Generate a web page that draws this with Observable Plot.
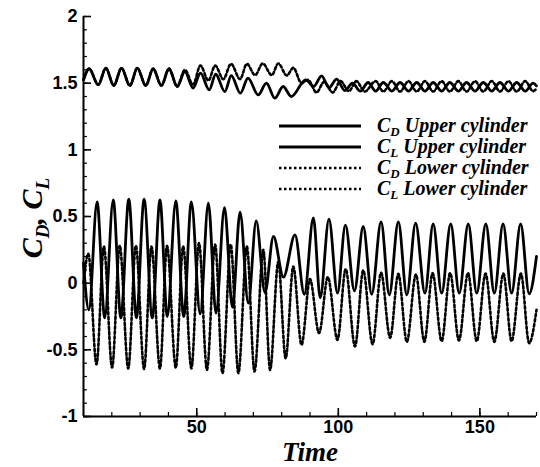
<!DOCTYPE html>
<html><head><meta charset="utf-8">
<script src="https://cdn.jsdelivr.net/npm/d3@7"></script>
<script src="https://cdn.jsdelivr.net/npm/@observablehq/plot@0.6"></script>
<style>body{margin:0;background:#fff}</style>
</head><body><div id="chart"></div>
<script>
// ---- Data (extrema of each oscillating signal) ----
const cdUpperT = [10,12.0,15.2,17.9,20.7,23.4,26.4,29.0,32.0,34.6,37.5,40.2,43.1,45.8,48.7,51.3,54.4,56.7,59.9,62.2,65.4,68.1,71.7,74.6,77.6,80.5,83.4,88.5,91.3,94.1,96.7,99.4,102.3,105.0,107.8,110.5,113.2,115.9,118.9,121.8,124.8,127.7,130.6,133.5,136.5,139.4,142.4,145.3,148.3,151.2,154.2,157.1,160.1,163.0,166.0,168.8,170];
const cdUpperV = [1.525,1.608,1.488,1.613,1.482,1.613,1.482,1.613,1.482,1.608,1.482,1.608,1.475,1.587,1.463,1.575,1.45,1.567,1.437,1.557,1.425,1.538,1.412,1.50,1.388,1.475,1.40,1.525,1.475,1.555,1.465,1.53,1.445,1.50,1.44,1.505,1.44,1.505,1.44,1.505,1.44,1.505,1.44,1.505,1.44,1.505,1.44,1.505,1.44,1.505,1.44,1.505,1.44,1.505,1.44,1.50,1.48];

const clUpperT = [10,11.9,14.8,17.5,20.5,23.2,26.0,28.7,31.4,34.3,37.0,39.6,42.6,45.4,48.1,51.2,54.1,56.8,59.8,62.6,65.3,68.2,71.0,74.1,77.1,80.6,84.7,88.0,91.2,93.6,96.7,99.7,102.5,105.7,108.8,111.8,115.1,118.0,121.2,124.2,127.3,130.6,133.5,136.5,139.7,142.7,145.9,148.9,152.1,155.1,158.2,161.2,164.4,167.4,170];
const clUpperV = [0.15,-0.2,0.61,-0.26,0.625,-0.26,0.63,-0.26,0.63,-0.26,0.625,-0.25,0.617,-0.25,0.61,-0.23,0.60,-0.225,0.567,-0.18,0.533,-0.15,0.467,-0.07,0.35,0.045,0.362,-0.083,0.49,-0.11,0.48,-0.075,0.435,-0.058,0.425,-0.083,0.46,-0.088,0.46,-0.088,0.45,-0.075,0.445,-0.075,0.445,-0.075,0.445,-0.075,0.445,-0.075,0.445,-0.075,0.445,-0.08,0.2];

const cdLowerT = [10,12.0,15.2,17.9,20.7,23.4,26.4,29.0,32.0,34.6,37.5,40.2,43.1,45.8,48.7,51.3,54.1,56.5,59.4,62.1,65.3,67.7,70.6,73.3,76.5,78.8,81.8,84.1,87.0,89.3,92.3,95.0,98.0,100.8,103.7,106.4,109.3,113.2,115.9,118.9,121.8,124.8,127.7,130.6,133.5,136.5,139.4,142.4,145.3,148.3,151.2,154.2,157.1,160.1,163.0,166.0,168.8,170];
const cdLowerV = [1.525,1.608,1.488,1.613,1.482,1.613,1.482,1.613,1.482,1.608,1.482,1.608,1.475,1.60,1.49,1.632,1.52,1.632,1.53,1.645,1.53,1.645,1.56,1.648,1.56,1.648,1.557,1.615,1.50,1.525,1.43,1.51,1.43,1.515,1.44,1.515,1.437,1.515,1.437,1.515,1.437,1.515,1.437,1.515,1.437,1.515,1.437,1.515,1.437,1.515,1.437,1.515,1.437,1.515,1.437,1.515,1.44,1.46];

const clLowerT = [10,11.7,14.6,17.2,20.1,22.8,25.8,28.5,31.4,34.0,37.0,39.5,42.6,45.2,48.1,50.8,53.6,56.5,59.1,62.0,64.7,67.7,70.4,73.5,75.9,78.8,81.4,84.1,87.0,90.0,93.2,96.3,99.7,102.6,105.9,108.8,112.1,115.1,118.3,121.2,124.2,127.4,130.4,133.3,136.5,139.5,142.6,145.8,148.9,152.0,155.1,158.3,161.2,164.5,167.4,170];
const clLowerV = [0.0,0.22,-0.61,0.275,-0.633,0.28,-0.64,0.28,-0.643,0.275,-0.64,0.28,-0.633,0.275,-0.64,0.30,-0.65,0.29,-0.675,0.29,-0.675,0.275,-0.663,0.25,-0.65,0.16,-0.563,0.125,-0.463,0.03,-0.375,0.045,-0.425,0.105,-0.475,0.095,-0.458,0.078,-0.41,0.07,-0.44,0.065,-0.44,0.075,-0.435,0.075,-0.43,0.075,-0.435,0.072,-0.44,0.072,-0.435,0.072,-0.45,-0.2];

const xMajor = [50, 100, 150];
const xMinor = [10,20,30,40,50,60,70,80,90,100,110,120,130,140,150,160,170];
const yMajor = [-1, -0.5, 0, 0.5, 1, 1.5, 2];
const yMinor = [-1,-0.9,-0.8,-0.7,-0.6,-0.5,-0.4,-0.3,-0.2,-0.1,0,0.1,0.2,0.3,0.4,0.5,0.6,0.7,0.8,0.9,1,1.1,1.2,1.3,1.4,1.5,1.6,1.7,1.8,1.9,2];

const legendEntries = [
  {c: "C", sub: "D", text: " Upper cylinder", dotted: false},
  {c: "C", sub: "L", text: " Upper cylinder", dotted: false},
  {c: "C", sub: "D", text: " Lower cylinder", dotted: true},
  {c: "C", sub: "L", text: " Lower cylinder", dotted: true}
];

const zip = (T, V) => T.map((t, i) => ({t, v: V[i]}));
const cdUpper = zip(cdUpperT, cdUpperV);
const clUpper = zip(clUpperT, clUpperV);
const cdLower = zip(cdLowerT, cdLowerV);
const clLower = zip(clLowerT, clLowerV);

const DASH = "2.5,2.5";
const solid = {x: "t", y: "v", curve: "monotone-x", stroke: "black", strokeWidth: 2.8};
const dotted = {x: "t", y: "v", curve: "monotone-x", stroke: "black", strokeWidth: 2.6, strokeDasharray: DASH};

const plot = Plot.plot({
  width: 540, height: 467,
  marginLeft: 83, marginRight: 4, marginTop: 16, marginBottom: 51,
  x: {domain: [10, 170], label: null},
  y: {domain: [-1, 2], label: null},
  style: {fontFamily: "'Liberation Sans', Arial, sans-serif", fontWeight: "bold", fontSize: "18px", color: "black", background: "white", overflow: "visible"},
  marks: [
    Plot.axisY(yMinor, {tickSize: -4, tickFormat: () => "", strokeWidth: 1.2, label: null}),
    Plot.axisY(yMajor, {tickSize: -8, tickFormat: () => "", strokeWidth: 1.6, label: null}),
    Plot.axisY(yMajor, {tickSize: 0, tickPadding: 6, tickFormat: d => String(d), label: null, fontSize: 18}),
    Plot.axisX(xMinor, {tickSize: -4, tickFormat: () => "", strokeWidth: 1.2, label: null}),
    Plot.axisX(xMajor, {tickSize: -8, tickFormat: () => "", strokeWidth: 1.6, label: null}),
    Plot.axisX(xMajor, {tickSize: 0, tickPadding: 4, tickFormat: d => String(d), label: null, fontSize: 18}),
    Plot.ruleX([10], {strokeWidth: 2}),
    Plot.ruleY([-1], {strokeWidth: 2}),
    Plot.line(clLower, dotted),
    Plot.line(cdLower, dotted),
    Plot.line(clUpper, solid),
    Plot.line(cdUpper, solid)
  ]
});
document.getElementById("chart").appendChild(plot);

// ---- Legend and axis titles (serif bold italic, with subscripts) ----
const svg = d3.select(plot);
const serif = "'Liberation Serif', 'Times New Roman', serif";
const lg = svg.append("g").attr("font-family", serif).attr("font-weight", "bold").attr("font-style", "italic")
  .attr("font-size", 20).attr("text-anchor", "start");
legendEntries.forEach((e, i) => {
  const y = 126 + i * 21;
  lg.append("line").attr("x1", 279).attr("x2", 361).attr("y1", y).attr("y2", y)
    .attr("stroke", "black").attr("stroke-width", e.dotted ? 2.6 : 2.8)
    .attr("stroke-dasharray", e.dotted ? DASH : null);
  const t = lg.append("text").attr("x", 377).attr("y", y + 6);
  t.append("tspan").text(e.c);
  t.append("tspan").attr("font-size", 13).attr("dy", 4).text(e.sub);
  t.append("tspan").attr("dy", -4).text(e.text);
});

const yl = svg.append("text").attr("font-family", serif).attr("font-weight", "bold").attr("font-style", "italic")
  .attr("font-size", 30).attr("text-anchor", "middle").attr("transform", "translate(42,218) rotate(-90)");
yl.append("tspan").text("C");
yl.append("tspan").attr("font-size", 19).attr("dy", 7).text("D");
yl.append("tspan").attr("dy", -7).text(", C");
yl.append("tspan").attr("font-size", 19).attr("dy", 7).text("L");

svg.append("text").attr("font-family", serif).attr("font-weight", "bold").attr("font-style", "italic")
  .attr("font-size", 27).attr("text-anchor", "middle").attr("x", 310).attr("y", 461).text("Time");
</script>
</body></html>
